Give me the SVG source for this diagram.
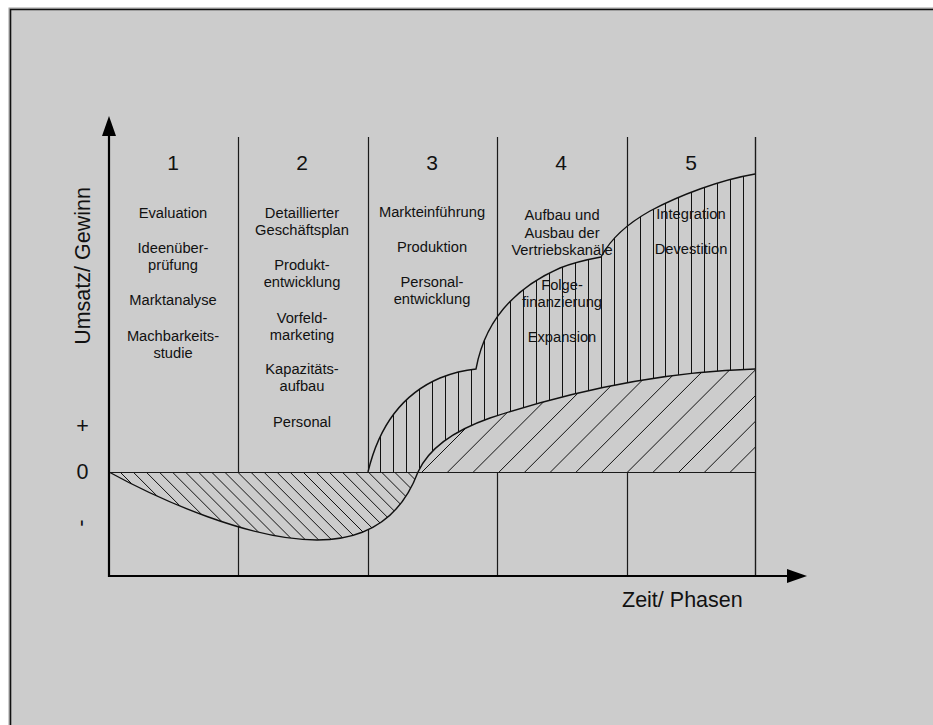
<svg xmlns="http://www.w3.org/2000/svg" width="933" height="725" viewBox="0 0 933 725">
<style>
.t{font-family:"Liberation Sans",Arial,sans-serif;font-size:14.7px;text-anchor:middle;fill:#111}
.n{font-family:"Liberation Sans",Arial,sans-serif;font-size:21px;text-anchor:middle;fill:#111}
.ax{font-family:"Liberation Sans",Arial,sans-serif;font-size:21.5px;fill:#111}
.ph{stroke:#1a1a1a;stroke-width:1.2;fill:none}
.hatch{stroke:#111;stroke-width:1;fill:none}
.curve{stroke:#111;stroke-width:1.4;fill:none}
.axis{stroke:#000;stroke-width:2.2;fill:none}
</style>
<defs>
<marker id="arr" viewBox="0 0 20 14" refX="2" refY="7" markerWidth="20" markerHeight="14" orient="auto" markerUnits="userSpaceOnUse">
<path d="M0,0 L20,7 L0,14 Z" fill="#000"/>
</marker>
<path id="lossP" d="M109,472 C160,500 250,540 317,540 C365,540 400,520 418,472 Z"/>
<path id="profP" d="M418,472 C428,450 450,432 490,418 C560,395 650,372 755,369 L755,472 Z"/>
<path id="revP" d="M368,472 C378,430 400,395 440,378 C455,372 465,370 476,369 C484,325 510,290 560,268 C575,262 590,259 601,257 C610,240 625,225 650,211 C680,195 720,180 755,174 L755,369 C650,372 560,395 490,418 C450,432 428,450 418,472 Z"/>
<clipPath id="cLoss"><use href="#lossP"/></clipPath>
<clipPath id="cProf"><use href="#profP"/></clipPath>
<clipPath id="cRev"><use href="#revP"/></clipPath>
</defs>

<rect x="0" y="0" width="933" height="725" fill="#fff"/>
<rect x="9" y="8" width="930" height="725" fill="#cccccc" stroke="#a0a0a0" stroke-width="1"/>
<path d="M10.5,725 V9.5 H933" stroke="#111" stroke-width="1.6" fill="none"/>

<g id="grid">
<path class="ph" d="M238.5,137V576 M368.5,137V576 M497.5,137V576 M627.5,137V576 M755.5,137V576 M109,472.5H755.5"/>
</g>

<g id="areas">
<use href="#lossP" fill="#cccccc"/>
<use href="#profP" fill="#cccccc"/>
<use href="#revP" fill="#cccccc"/>
<path class="hatch" clip-path="url(#cLoss)" d="M100,452l110,110M113.1,452l110,110M126.1,452l110,110M139.2,452l110,110M152.3,452l110,110M165.4,452l110,110M178.4,452l110,110M191.5,452l110,110M204.6,452l110,110M217.6,452l110,110M230.7,452l110,110M243.8,452l110,110M256.8,452l110,110M269.9,452l110,110M283,452l110,110M296.1,452l110,110M309.1,452l110,110M322.2,452l110,110M335.3,452l110,110M348.3,452l110,110M361.4,452l110,110M374.5,452l110,110M387.5,452l110,110"/>
<path class="hatch" clip-path="url(#cProf)" d="M412,482l140,-140M437.7,482l140,-140M463.4,482l140,-140M489.1,482l140,-140M514.8,482l140,-140M540.5,482l140,-140M566.2,482l140,-140M591.9,482l140,-140M617.6,482l140,-140M643.3,482l140,-140M669,482l140,-140M694.7,482l140,-140M720.4,482l140,-140"/>
<path class="hatch" clip-path="url(#cRev)" d="M380.5,165V473M393.5,165V473M406.5,165V473M419.5,165V473M432.5,165V473M445.5,165V473M458.5,165V473M471.5,165V473M484.5,165V473M497.5,165V473M510.5,165V473M523.5,165V473M536.5,165V473M549.5,165V473M562.5,165V473M575.5,165V473M588.5,165V473M601.5,165V473M614.5,165V473M627.5,165V473M640.5,165V473M653.5,165V473M665.5,165V473M678.5,165V473M691.5,165V473M704.5,165V473M717.5,165V473M730.5,165V473M743.5,165V473"/>
<path class="curve" d="M109,472 C160,500 250,540 317,540 C365,540 400,520 418,472 C428,450 450,432 490,418 C560,395 650,372 755,369"/>
<path class="curve" d="M368,472 C378,430 400,395 440,378 C455,372 465,370 476,369 C484,325 510,290 560,268 C575,262 590,259 601,257 C610,240 625,225 650,211 C680,195 720,180 755,174"/>
<path class="ph" d="M109,472.5H755.5 M755.5,137V576"/>
</g>

<g id="connectors">
<path class="axis" d="M109,577 V134" marker-end="url(#arr)"/>
<path class="axis" d="M108,576 H789" marker-end="url(#arr)"/>
</g>

<g id="axis-labels">
<text class="ax" transform="translate(90,266) rotate(-90)" text-anchor="middle">Umsatz/ Gewinn</text>
<text class="ax" x="622" y="607">Zeit/ Phasen</text>
<text class="ax" x="82.5" y="433" text-anchor="middle" font-size="20">+</text>
<text class="ax" x="82.5" y="479" text-anchor="middle" font-size="20">0</text>
<text class="ax" transform="translate(83,523) rotate(90)" x="0" y="7" text-anchor="middle" font-size="20">-</text>
</g>

<g id="phase1">
<text class="n" x="173" y="170">1</text>
<text class="t" x="173" y="218">Evaluation</text>
<text class="t" x="173" y="253">Ideenüber-</text>
<text class="t" x="173" y="270">prüfung</text>
<text class="t" x="173" y="305">Marktanalyse</text>
<text class="t" x="173" y="341">Machbarkeits-</text>
<text class="t" x="173" y="358">studie</text>
</g>

<g id="phase2">
<text class="n" x="302" y="170">2</text>
<text class="t" x="302" y="218">Detaillierter</text>
<text class="t" x="302" y="235">Geschäftsplan</text>
<text class="t" x="302" y="270">Produkt-</text>
<text class="t" x="302" y="287">entwicklung</text>
<text class="t" x="302" y="323">Vorfeld-</text>
<text class="t" x="302" y="340">marketing</text>
<text class="t" x="302" y="374">Kapazitäts-</text>
<text class="t" x="302" y="391">aufbau</text>
<text class="t" x="302" y="427">Personal</text>
</g>

<g id="phase3">
<text class="n" x="432" y="170">3</text>
<text class="t" x="432" y="217">Markteinführung</text>
<text class="t" x="432" y="252">Produktion</text>
<text class="t" x="432" y="287">Personal-</text>
<text class="t" x="432" y="304">entwicklung</text>
</g>

<g id="phase4">
<text class="n" x="561" y="170">4</text>
<text class="t" x="562" y="220">Aufbau und</text>
<text class="t" x="562" y="238">Ausbau der</text>
<text class="t" x="562" y="255">Vertriebskanäle</text>
<text class="t" x="562" y="290">Folge-</text>
<text class="t" x="562" y="307">finanzierung</text>
<text class="t" x="562" y="342">Expansion</text>
</g>

<g id="phase5">
<text class="n" x="691" y="170">5</text>
<text class="t" x="691" y="219">Integration</text>
<text class="t" x="691" y="254">Devestition</text>
</g>
</svg>
